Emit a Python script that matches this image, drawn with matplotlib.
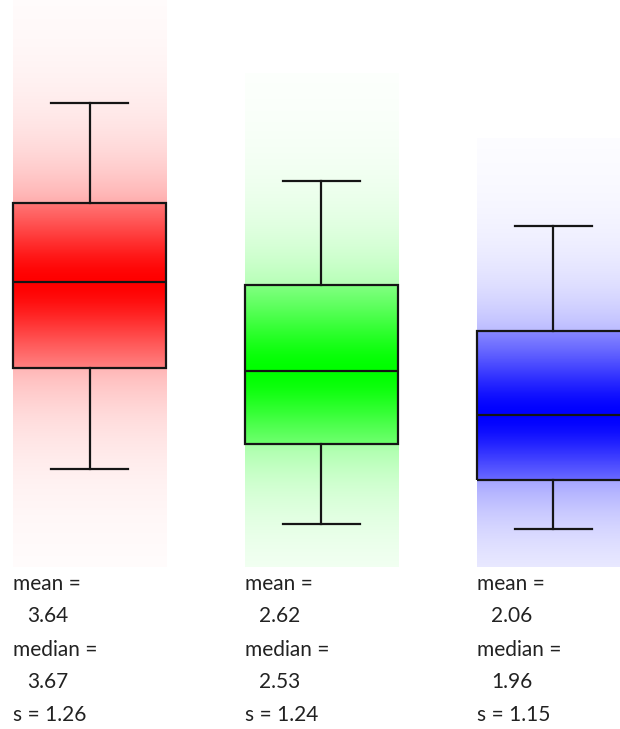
import numpy as np
import matplotlib
matplotlib.use('Agg')
from matplotlib import pyplot as plt
from matplotlib import transforms

# values
groups = ['red', 'green', 'blue']
colors = [(1, 0, 0), (0, 1, 0), (0, 0, 1)]
means = [3.64, 2.62, 2.06]
medians = [3.67, 2.53, 1.96]
sds = [1.26, 1.24, 1.15]
q1s = [2.57, 1.59, 1.12]
q3s = [4.69, 3.63, 3.04]
whis_lo = [1.27, 0.56, 0.49]
whis_hi = [5.97, 4.97, 4.39]

positions = [0, 1, 2]
width = 0.66

fig = plt.figure(figsize=(6.2, 7.29), dpi=100)
ax = fig.add_axes([0, 161.5 / 729, 1, 567.5 / 729])


def grad(c, lo, hi, med, s):
    ys = np.linspace(lo, hi, 600)
    img = np.zeros((len(ys), 1, 4))
    img[:, 0, :3] = c
    img[:, 0, 3] = np.exp(-1.4 * np.abs(ys - med) / s)
    return img


# gradient columns, strongest at the median; the box gets a second layer
for pos, c, mu, med, s, a, b in zip(positions, colors, means, medians, sds, q1s, q3s):
    lo = max(0, mu - 3 * s)
    hi = mu + 3 * s
    ext = [pos - width / 2, pos + width / 2]
    ax.imshow(grad(c, lo, hi, med, s), origin='lower', aspect='auto',
              interpolation='bilinear', extent=ext + [lo, hi], zorder=1)
    ax.imshow(grad(c, a, b, med, s), origin='lower', aspect='auto',
              interpolation='bilinear', extent=ext + [a, b], zorder=2)

stats = []
for g, med, a, b, wl, wh, mu in zip(groups, medians, q1s, q3s, whis_lo, whis_hi, means):
    stats.append({'label': g, 'med': med, 'q1': a, 'q3': b,
                  'whislo': wl, 'whishi': wh, 'mean': mu, 'fliers': []})

lp = dict(color='#151515', linewidth=1.6)
ax.bxp(stats, positions=positions, widths=width, patch_artist=True,
       showfliers=False,
       boxprops=dict(facecolor='none', edgecolor='#151515', linewidth=1.6),
       medianprops=lp, whiskerprops=lp, capprops=lp, zorder=3)

ax.set_xlim(-0.386, 2.287)
ax.set_ylim(0, 7.294)
ax.axis('off')

# statistics below each column
trans = transforms.blended_transform_factory(ax.transData, fig.transFigure)
line_y = [584, 616, 650, 682, 715]
for pos, mu, med, s in zip(positions, means, medians, sds):
    x0 = pos - width / 2
    rows = [('mean =', 0), (f'{mu:.2f}', 0.06), ('median =', 0),
            (f'{med:.2f}', 0.06), (f's = {s:.2f}', 0)]
    for (txt, dx), yp in zip(rows, line_y):
        ax.text(x0 + dx, 1 - yp / 729, txt, transform=trans, fontsize=15,
                family='Lato', color='#222222', va='center', ha='left')

fig.savefig('out.png', dpi=100)
